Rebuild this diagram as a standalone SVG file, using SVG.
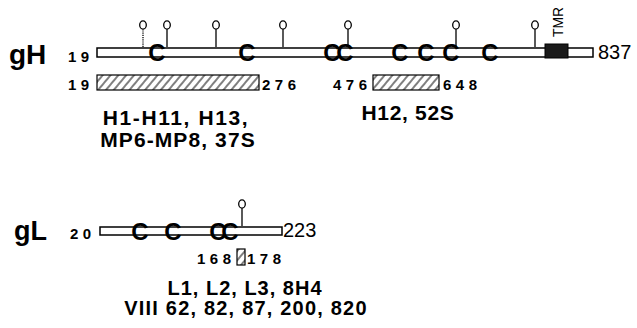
<svg xmlns="http://www.w3.org/2000/svg" width="637" height="328" viewBox="0 0 637 328">
<style>
.lbl{font-family:"Liberation Sans",Arial,sans-serif;font-weight:bold;fill:#000}
.num{font-family:"Liberation Sans",Arial,sans-serif;font-weight:bold;font-size:15px;letter-spacing:4.5px;fill:#000}
.end{font-family:"Liberation Sans",Arial,sans-serif;font-size:20px;fill:#000}
.bar{fill:#fff;stroke:#000;stroke-width:1.5}
.hat{fill:url(#hatch);stroke:#000;stroke-width:1.2}
.cys{font-family:"Liberation Sans",Arial,sans-serif;font-weight:bold;font-size:24px;fill:#000;text-anchor:middle}
.stem{stroke:#000;stroke-width:1.3}
.pop{fill:#fff;stroke:#000;stroke-width:1.3}
.big{font-size:21px;text-anchor:middle}
.mid{font-size:20px;text-anchor:middle}
</style>
<defs>
<pattern id="hatch" patternUnits="userSpaceOnUse" width="6" height="8" patternTransform="rotate(40)">
<rect width="6" height="8" fill="#fff"/>
<line x1="1" y1="0" x2="1" y2="8" stroke="#000" stroke-width="1"/>
</pattern>
<g id="lolli"><line class="stem" x1="0" y1="0" x2="0" y2="-18"/><ellipse class="pop" cx="0" cy="-22" rx="3.3" ry="4.2"/></g>
</defs>

<g id="gH">
<text class="lbl" x="9" y="64" font-size="28">gH</text>
<text class="num" x="68" y="62">19</text>
<rect class="bar" x="97" y="48" width="496" height="9"/>
<rect id="tmr" x="545" y="44" width="23" height="14" fill="#1a1a1a" stroke="#000"/>
<text x="563" y="37" transform="rotate(-90 563 37)" font-family="Liberation Sans,Arial,sans-serif" font-size="15" textLength="30" lengthAdjust="spacingAndGlyphs" fill="#000">TMR</text>
<text class="end" x="598" y="59">837</text>
<g id="gH-glyco">
<line x1="143" y1="47" x2="143" y2="29" stroke="#000" stroke-width="1.3" stroke-dasharray="1.2 1"/>
<ellipse class="pop" cx="143" cy="25" rx="3.3" ry="4.2"/>
<use href="#lolli" x="167" y="47"/>
<use href="#lolli" x="216" y="47"/>
<use href="#lolli" x="283" y="47"/>
<use href="#lolli" x="348" y="47"/>
<use href="#lolli" x="456" y="47"/>
<use href="#lolli" x="535" y="47"/>
</g>
<g id="gH-cys">
<text class="cys" x="157" y="61">C</text>
<text class="cys" x="247" y="61">C</text>
<text class="cys" x="332" y="61">C</text>
<text class="cys" x="345" y="61">C</text>
<text class="cys" x="400" y="61">C</text>
<text class="cys" x="426" y="61">C</text>
<text class="cys" x="451" y="61">C</text>
<text class="cys" x="490" y="61">C</text>
</g>
</g>

<g id="gH-epitope1">
<text class="num" x="68" y="90">19</text>
<rect class="hat" x="97" y="75" width="162" height="15"/>
<text class="num" x="262" y="90">276</text>
<text class="lbl big" x="176" y="125" letter-spacing="1.6">H1-H11, H13,</text>
<text class="lbl big" x="178" y="147" letter-spacing="1.1">MP6-MP8, 37S</text>
</g>

<g id="gH-epitope2">
<text class="num" x="333" y="90">476</text>
<rect class="hat" x="373" y="75" width="66" height="15"/>
<text class="num" x="443" y="90">648</text>
<text class="lbl big" x="408" y="120" letter-spacing="0.7">H12, 52S</text>
</g>

<g id="gL">
<text class="lbl" x="14" y="240" font-size="27">gL</text>
<text class="num" x="70" y="239">20</text>
<rect class="bar" x="100" y="227" width="182" height="8"/>
<text class="end" x="283" y="237">223</text>
<use href="#lolli" x="242" y="226"/>
<text class="cys" x="140" y="240">C</text>
<text class="cys" x="173" y="240">C</text>
<text class="cys" x="218" y="240">C</text>
<text class="cys" x="230" y="240">C</text>
</g>

<g id="gL-epitope">
<text class="num" x="197" y="264">168</text>
<rect class="hat" x="237" y="249" width="8" height="16"/>
<text class="num" x="247" y="264">178</text>
<text class="lbl mid" x="245" y="295" letter-spacing="1">L1, L2, L3, 8H4</text>
<text class="lbl mid" x="246" y="315" letter-spacing="1.2">VIII 62, 82, 87, 200, 820</text>
</g>
</svg>
